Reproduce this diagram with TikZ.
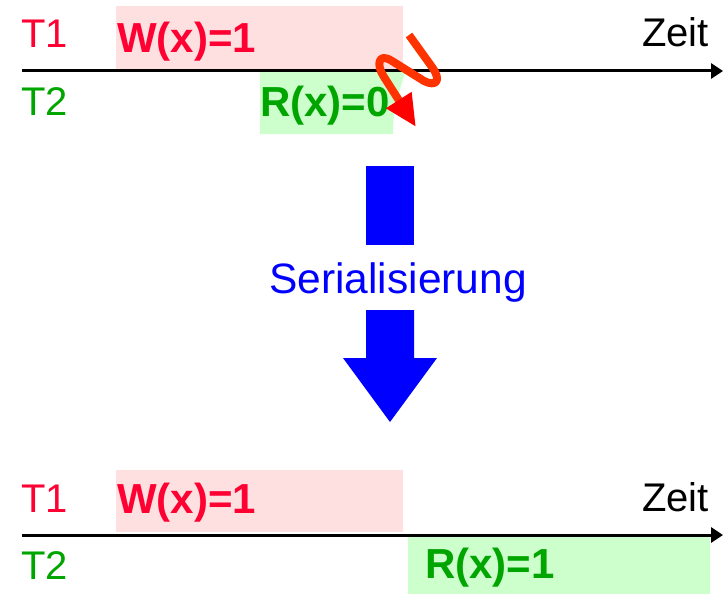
\documentclass[tikz,border=0pt]{standalone}
\usepackage{fontspec}
\setmainfont{Liberation Sans}
\usetikzlibrary{arrows.meta}
\definecolor{tred}{RGB}{255,0,51}
\definecolor{tgreen}{RGB}{0,165,0}
\definecolor{tpink}{RGB}{255,224,224}
\definecolor{tmint}{RGB}{204,255,204}
\definecolor{flash}{RGB}{255,51,0}

\begin{document}
\begin{tikzpicture}[x=1pt,y=-1pt,
    label/.style={inner sep=0pt,anchor=base west,font=\fontsize{40}{42}\selectfont},
    op/.style={inner sep=0pt,anchor=base west,font=\fontsize{42}{44}\selectfont\bfseries},
    timeline/.style={line width=3pt,-{Triangle[length=12pt,width=15pt]}}]
    \useasboundingbox (0,0) rectangle (723,594);
    % before: boxes
    \fill[tpink] (116,6) rectangle (403,70);
    \fill[tmint] (260,72) -- (405,72) .. controls (399,95) and (393,105) .. (393,134) -- (260,134) -- cycle;
    % before: timeline
    \coordinate (topstart) at (22,71);
    \coordinate (topend) at (723,71);
    \draw[timeline] (topstart) -- (topend);
    \node[label,tred] (topT1) at (21,48) {T1};
    \node[label,tgreen] (topT2) at (21,115) {T2};
    \node[label,anchor=base east] (topZeit) at (709,47) {Zeit};
    \node[op,tred] (topW) at (117,53) {W(x)=1};
    \node[op,tgreen] (topR) at (260,117) {R(x)=0};
    % conflict
    \draw[flash,line width=8pt,line join=round,-{Triangle[length=32pt,width=28pt,color=red]}]
        (409,35) -- (432,67) .. controls (442,81) and (436,87) .. (424,81)
        -- (392,61) .. controls (378,52) and (376,65) .. (384,77) -- (416,127);
    % serialisation arrow
    \fill[blue] (366,166) rectangle (414,245);
    \node[inner sep=0pt,anchor=base,blue,font=\fontsize{42.5}{44}\selectfont] (serial) at (398,293) {Serialisierung};
    \fill[blue] (366,310) -- (414,310) -- (414,358) -- (437,358) -- (390,422)
        -- (343,358) -- (366,358) -- cycle;
    % after: boxes
    \fill[tpink] (116,470) rectangle (403,532);
    \fill[tmint] (408,537) rectangle (710,594);
    % after: timeline
    \coordinate (botstart) at (22,535);
    \coordinate (botend) at (723,535);
    \draw[timeline] (botstart) -- (botend);
    \node[label,tred] (botT1) at (21,512) {T1};
    \node[label,tgreen] (botT2) at (21,579) {T2};
    \node[label,anchor=base east] (botZeit) at (709,511) {Zeit};
    \node[op,tred] (botW) at (117,513) {W(x)=1};
    \node[op,tgreen] (botR) at (425,578) {R(x)=1};
\end{tikzpicture}
\end{document}
